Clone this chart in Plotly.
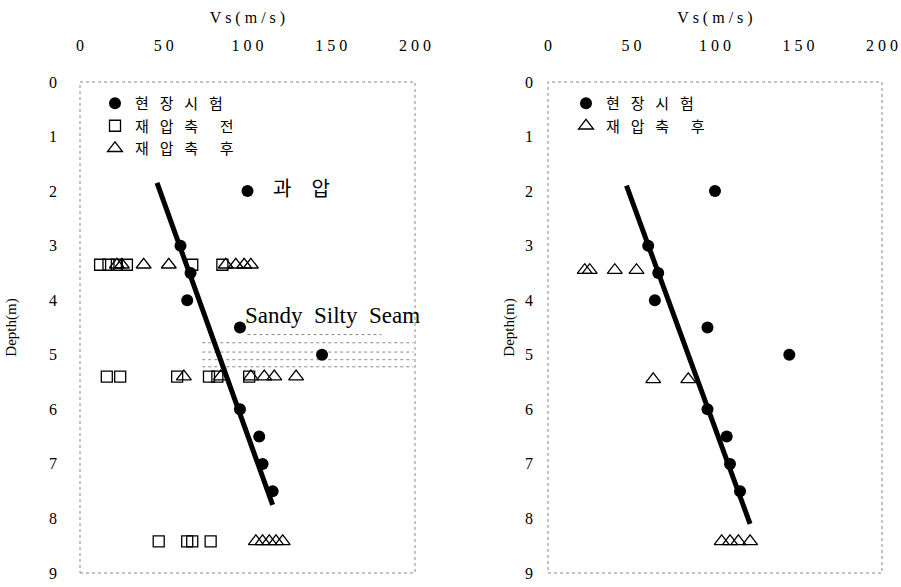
import plotly.graph_objects as go
from plotly.subplots import make_subplots

# ---------------- data ----------------
field_depth = [2, 3, 3.5, 4, 4.5, 5, 6, 6.5, 7, 7.5]
field_vs = [100, 60, 66, 64, 95.5, 144.5, 95.5, 107, 109, 115]

before_depth = [3.35, 3.35, 3.35, 3.35, 3.35, 3.35,
                5.4, 5.4, 5.4, 5.4, 5.4, 5.4,
                8.42, 8.42, 8.42, 8.42]
before_vs = [12, 17, 22, 28, 67, 85,
             16, 24, 58, 77, 82, 101,
             47, 64, 67, 78]

after_depth_left = [3.35, 3.35, 3.35, 3.35, 3.35, 3.35, 3.35, 3.35,
                    5.4, 5.4, 5.4, 5.4, 5.4, 5.4,
                    8.42, 8.42, 8.42, 8.42, 8.42]
after_vs_left = [22, 25, 38, 53, 87, 93, 98, 102,
                 62, 84, 102, 110, 116, 129,
                 105, 109, 113, 117, 121]

after_depth_right = [3.45, 3.45, 3.45, 3.45, 5.45, 5.45, 8.42, 8.42, 8.42, 8.42]
after_vs_right = [22, 25, 40, 53, 63, 84, 104, 109, 114, 121]

trend_depth_left = [1.85, 7.75]
trend_vs_left = [46, 115]
trend_depth_right = [1.9, 8.1]
trend_vs_right = [47, 121]

seam_depths = [4.63, 4.78, 4.95, 5.09, 5.22]
seam_start = [100, 73, 73, 73, 73]
seam_end = [180, 199, 199, 199, 199]

x_ticks = [0, 50, 100, 150, 200]
x_ticklabels = ["0", "5 0", "1 0 0", "1 5 0", "2 0 0"]
y_ticks = list(range(10))

S = "\u2002\u00a0"
leg_left = ["현" + S + "장" + S + "시" + S + "험",
            "재" + S + "압" + S + "축" + S + S + "전",
            "재" + S + "압" + S + "축" + S + S + "후"]
leg_right = [leg_left[0], leg_left[2]]

SERIF = "Liberation Serif"
KR = "Noto Sans CJK KR"

W, H = 901, 587

fig = make_subplots(rows=1, cols=2, horizontal_spacing=0.1)

# ---- left panel ----
fig.add_trace(go.Scatter(x=field_vs, y=field_depth, mode="markers",
                         marker=dict(symbol="circle", size=12, color="black"),
                         name=leg_left[0], legend="legend"), 1, 1)
fig.add_trace(go.Scatter(x=before_vs, y=before_depth, mode="markers",
                         marker=dict(symbol="square-open", size=11, color="black", line=dict(width=1.3)),
                         name=leg_left[1], legend="legend"), 1, 1)
fig.add_trace(go.Scatter(x=after_vs_left, y=after_depth_left, mode="markers",
                         marker=dict(symbol="triangle-up-open", size=13, color="black", line=dict(width=1.3)),
                         name=leg_left[2], legend="legend"), 1, 1)
fig.add_trace(go.Scatter(x=trend_vs_left, y=trend_depth_left, mode="lines",
                         line=dict(color="black", width=5), showlegend=False), 1, 1)

# ---- right panel ----
fig.add_trace(go.Scatter(x=field_vs, y=field_depth, mode="markers",
                         marker=dict(symbol="circle", size=12, color="black"),
                         name=leg_right[0], legend="legend2"), 1, 2)
fig.add_trace(go.Scatter(x=after_vs_right, y=after_depth_right, mode="markers",
                         marker=dict(symbol="triangle-up-open", size=13, color="black", line=dict(width=1.3)),
                         name=leg_right[1], legend="legend2"), 1, 2)
fig.add_trace(go.Scatter(x=trend_vs_right, y=trend_depth_right, mode="lines",
                         line=dict(color="black", width=5), showlegend=False), 1, 2)

# seam hatch (dotted lines) on left panel
for d, a, b in zip(seam_depths, seam_start, seam_end):
    fig.add_shape(type="line", xref="x", yref="y", x0=a, x1=b, y0=d, y1=d,
                  line=dict(color="#888", width=1, dash="dot"), layer="below")

# dotted frames
for xr, yr in [("x domain", "y domain"), ("x2 domain", "y2 domain")]:
    fig.add_shape(type="rect", xref=xr, yref=yr, x0=0, x1=1, y0=0, y1=1,
                  line=dict(color="#888", width=1, dash="dot"))

axis_font = dict(family=SERIF, size=16, color="black")
ydom = [1 - 573 / H, 1 - 82 / H]
for c, dom, ystand, tstand in [(1, [80 / W, 415 / W], 22, 28), (2, [548 / W, 882 / W], 14, 6)]:
    fig.update_xaxes(row=1, col=c, domain=dom, range=[0, 200], side="top",
                     tickvals=x_ticks, ticktext=x_ticklabels, tickfont=axis_font,
                     showgrid=False, zeroline=False, showline=False, ticks="",
                     ticklabelstandoff=27, automargin=False,
                     title=dict(text="V s ( m / s )", font=axis_font, standoff=9))
    fig.update_yaxes(row=1, col=c, domain=ydom, range=[9, 0],
                     tickvals=y_ticks, tickfont=axis_font,
                     showgrid=False, zeroline=False, showline=False, ticks="",
                     ticklabelstandoff=ystand, automargin=False,
                     title=dict(text="Depth(m)", font=dict(family=SERIF, size=15, color="black"),
                                standoff=tstand))

fig.add_annotation(x=132.5, y=1.93, xref="x", yref="y",
                   text="과\u2003압", showarrow=False,
                   font=dict(family=KR, size=20, color="black"))
fig.add_annotation(x=150.5, y=4.28, xref="x", yref="y",
                   text="Sandy\u00a0 Silty\u00a0 Seam", showarrow=False,
                   font=dict(family=SERIF, size=23, color="black"))

leg_font = dict(family=KR, size=15, color="black")
fig.update_layout(
    width=W, height=H, plot_bgcolor="white", paper_bgcolor="white",
    margin=dict(l=0, r=0, t=0, b=0),
    legend=dict(x=95 / W, y=1 - 87 / H, xanchor="left", yanchor="top",
                font=leg_font, bgcolor="rgba(0,0,0,0)", tracegroupgap=0, itemwidth=30),
    legend2=dict(x=566 / W, y=1 - 87 / H, xanchor="left", yanchor="top",
                 font=leg_font, bgcolor="rgba(0,0,0,0)", tracegroupgap=0, itemwidth=30),
    font=dict(family=SERIF, color="black"),
)

fig.write_html("out.html", config={"displayModeBar": False},
               post_script="document.body.style.margin='0';document.body.style.overflow='hidden';")
